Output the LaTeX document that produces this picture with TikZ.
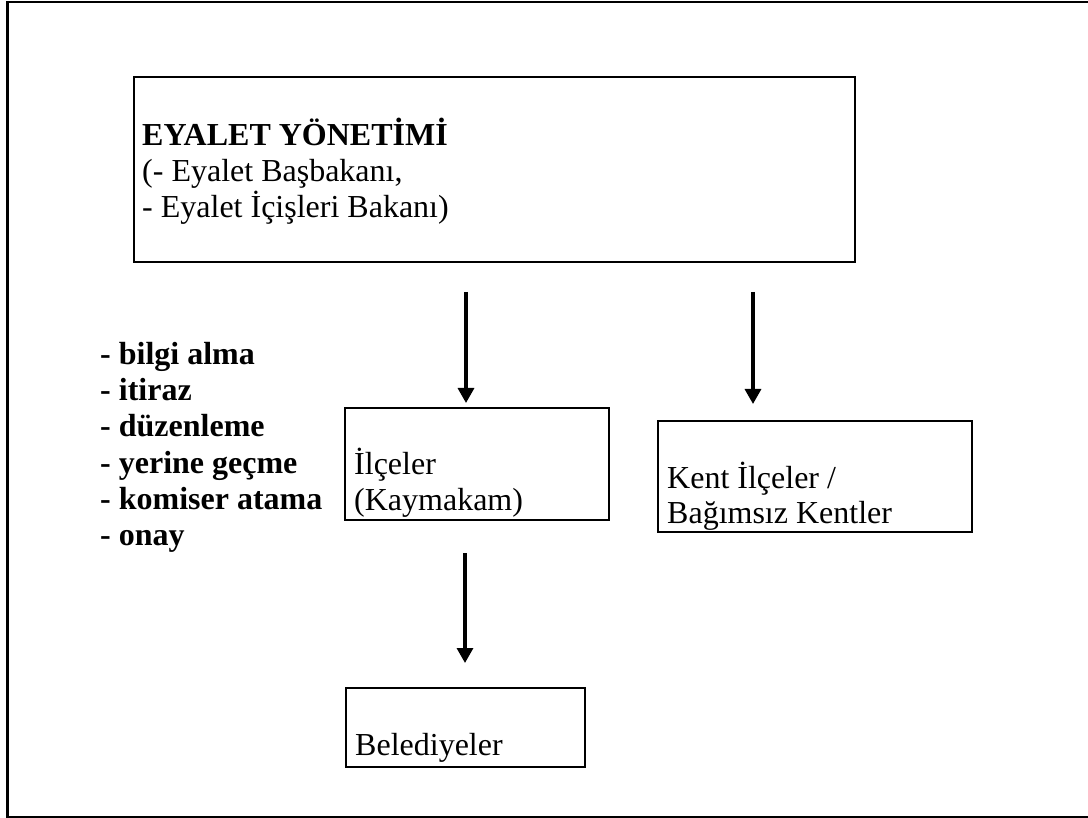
\documentclass[tikz,border=0pt]{standalone}
\usepackage{fontspec}
\setmainfont{Liberation Serif}
\usetikzlibrary{arrows.meta}
\begin{document}
\begin{tikzpicture}[x=1pt,y=-1pt,
  frame/.style={draw=black,line width=2.2pt},
  box/.style={draw=black,line width=2.7pt,inner sep=0pt},
  txt/.style={anchor=base west,inner sep=0pt,font=\fontsize{32}{36}\selectfont},
  btxt/.style={txt,font=\fontsize{32}{36}\selectfont\bfseries},
  link/.style={line width=3.3pt,-{Triangle[length=15pt,width=16pt]}}]
\useasboundingbox (0,0) rectangle (1088,818);
% outer frame (its right side runs just past the page edge)
\draw[frame] (7.5,2) rectangle (1090,817.5);
% boxes
\node[box,minimum width=721pt,minimum height=185pt] (gov) at (494.5,169.5) {};
\node[box,minimum width=264pt,minimum height=112pt] (ilce) at (477,464) {};
\node[box,minimum width=314pt,minimum height=111pt] (kent) at (815,476.5) {};
\node[box,minimum width=239pt,minimum height=79pt] (bel) at (465.5,727.5) {};
% box texts
\node[btxt] (t1) at (142,145.5) {EYALET YÖNETİMİ};
\node[txt] (t2) at (142,181.5) {(- Eyalet Başbakanı,};
\node[txt] (t3) at (142,217.5) {- Eyalet İçişleri Bakanı)};
\node[txt] (i1) at (354,475) {İlçeler};
\node[txt] (i2) at (354,510) {(Kaymakam)};
\node[txt] (k1) at (667,488) {Kent İlçeler /};
\node[txt] (k2) at (667,523) {Bağımsız Kentler};
\node[txt] (b1) at (355,755) {Belediyeler};
% list of supervisory powers
\node[btxt] (l1) at (100,365) {- bilgi alma};
\node[btxt] (l2) at (100,401) {- itiraz};
\node[btxt] (l3) at (100,437) {- düzenleme};
\node[btxt] (l4) at (100,473) {- yerine geçme};
\node[btxt] (l5) at (100,509) {- komiser atama};
\node[btxt] (l6) at (100,545) {- onay};
% arrows
\coordinate (a1s) at (466,292);
\coordinate (a1e) at (466,403);
\coordinate (a2s) at (753,292);
\coordinate (a2e) at (753,404);
\coordinate (a3s) at (465,553);
\coordinate (a3e) at (465,663);
\draw[link] (a1s) -- (a1e);
\draw[link] (a2s) -- (a2e);
\draw[link] (a3s) -- (a3e);
\end{tikzpicture}
\end{document}
